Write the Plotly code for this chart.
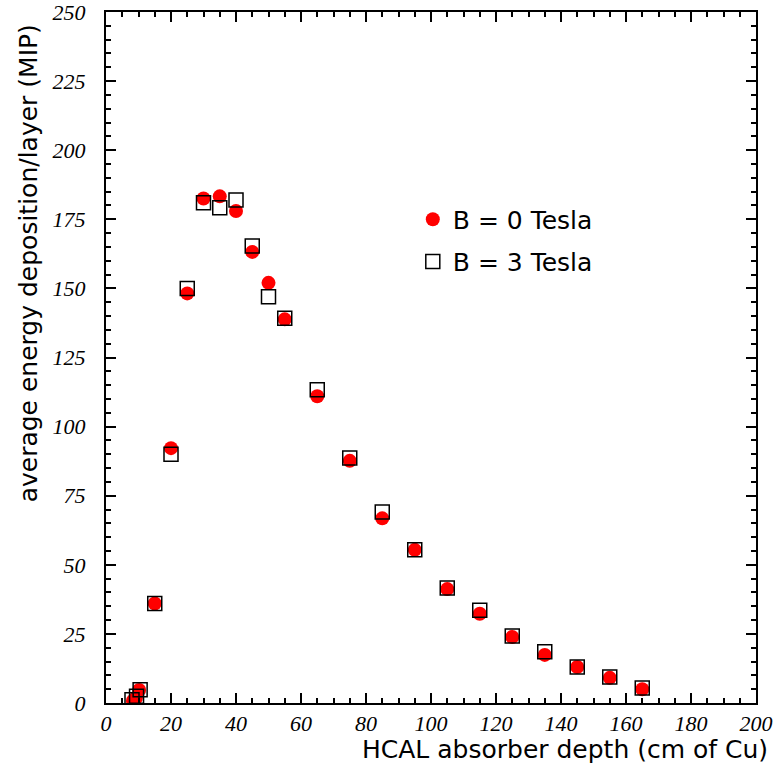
import plotly.graph_objects as go

# B = 0 Tesla (filled red circles)
depth_b0 = [8.3, 9.2, 10.2, 15, 20, 25, 30, 35, 40, 45, 50, 55, 65, 75, 85, 95, 105, 115, 125, 135, 145, 155, 165]
edep_b0 = [0.8, 1.8, 4.7, 36.0, 92.2, 148.2, 182.5, 183.3, 178.0, 163.2, 152.0, 138.8, 111.0, 87.6, 66.8, 55.4, 41.2, 32.3, 23.9, 17.4, 13.0, 9.1, 5.0]

# B = 3 Tesla (open squares)
depth_b3 = [8.0, 9.4, 10.5, 15, 20, 25, 30, 35, 40, 45, 50, 55, 65, 75, 85, 95, 105, 115, 125, 135, 145, 155, 165]
edep_b3 = [1.2, 2.4, 4.8, 36.0, 90.0, 150.0, 181.0, 179.2, 182.0, 165.3, 147.0, 139.2, 113.3, 88.6, 69.1, 55.4, 41.6, 33.6, 24.2, 18.5, 13.0, 9.4, 5.4]

x_ticks = [0, 20, 40, 60, 80, 100, 120, 140, 160, 180, 200]
y_ticks = [0, 25, 50, 75, 100, 125, 150, 175, 200, 225, 250]

fig = go.Figure()
fig.add_trace(go.Scatter(
    x=depth_b0, y=edep_b0, mode="markers", name="B = 0 Tesla", legend="legend",
    marker=dict(symbol="circle", size=14, color="#ff0000", line=dict(width=0)),
))
fig.add_trace(go.Scatter(
    x=depth_b3, y=edep_b3, mode="markers", name="B = 3 Tesla", legend="legend2",
    marker=dict(symbol="square-open", size=14, color="black", line=dict(width=1.5, color="black")),
))

tickfont = dict(family="Liberation Serif", size=22, color="black")
legfont = dict(family="DejaVu Sans", size=25, color="black")
fig.update_layout(
    width=776, height=770,
    margin=dict(l=106, r=20, t=12, b=67, autoexpand=False),
    paper_bgcolor="white", plot_bgcolor="white",
    showlegend=True,
    legend=dict(
        x=0.472, y=0.733, xanchor="left", yanchor="top",
        font=legfont, bgcolor="rgba(0,0,0,0)", borderwidth=0, itemsizing="trace",
    ),
    legend2=dict(
        x=0.472, y=0.672, xanchor="left", yanchor="top",
        font=legfont, bgcolor="rgba(0,0,0,0)", borderwidth=0, itemsizing="trace",
    ),
    xaxis=dict(
        range=[0, 200], tickvals=x_ticks, ticktext=[f"<i>{v}</i>" for v in x_ticks],
        showgrid=False, zeroline=False, automargin=False, ticklabeloverflow="allow",
        showline=True, linecolor="black", linewidth=2, mirror="allticks",
        ticks="inside", ticklen=10, tickwidth=1.5, tickcolor="black",
        minor=dict(dtick=5, tick0=0, ticks="inside", ticklen=5, tickwidth=1.5, tickcolor="black"),
        tickfont=tickfont,
    ),
    yaxis=dict(
        range=[0, 250], tickvals=y_ticks, ticktext=[f"<i>{v}</i>" for v in y_ticks],
        showgrid=False, zeroline=False, automargin=False, ticklabeloverflow="allow",
        showline=True, linecolor="black", linewidth=2, mirror="allticks",
        ticks="inside", ticklen=10, tickwidth=1.5, tickcolor="black",
        minor=dict(dtick=5, tick0=0, ticks="inside", ticklen=5, tickwidth=1.5, tickcolor="black"),
        tickfont=tickfont, ticklabelstandoff=14,
    ),
    annotations=[
        dict(text="HCAL absorber depth (cm of Cu)", xref="paper", yref="paper",
             x=1.0215, y=-0.068, xanchor="right", yanchor="middle", showarrow=False,
             font=dict(family="DejaVu Sans", size=25, color="black")),
        dict(text="average energy deposition/layer (MIP)", xref="paper", yref="paper",
             x=-0.12, y=0.985, xanchor="center", yanchor="top", textangle=-90, showarrow=False,
             font=dict(family="DejaVu Sans", size=25, color="black")),
    ],
)

fig.write_html("out.html", config={"displayModeBar": False},
               post_script="document.body.style.margin='0';document.body.style.overflow='hidden';")
